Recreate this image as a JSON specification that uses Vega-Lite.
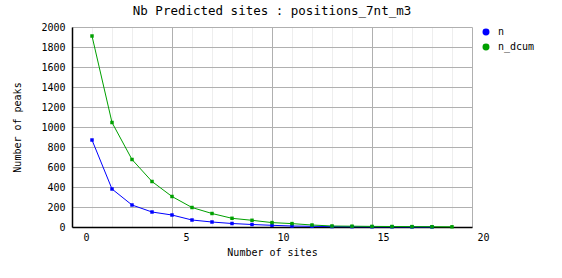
{
  "$schema": "https://vega.github.io/schema/vega-lite/v6.json",
  "width": 400,
  "height": 200,
  "autosize": {"type": "none"},
  "padding": {"left": 72, "top": 27, "right": 90, "bottom": 51},
  "background": "white",
  "title": {"text": "Nb Predicted sites : positions_7nt_m3", "font": "DejaVu Sans Mono", "fontSize": 12.5, "fontWeight": "normal", "color": "#000", "anchor": "middle", "offset": 5},
  "data": {"values": [
    {"x": 1, "v": 870, "s": "n"}, {"x": 2, "v": 380, "s": "n"}, {"x": 3, "v": 220, "s": "n"}, {"x": 4, "v": 150, "s": "n"},
    {"x": 5, "v": 120, "s": "n"}, {"x": 6, "v": 70, "s": "n"}, {"x": 7, "v": 50, "s": "n"}, {"x": 8, "v": 35, "s": "n"},
    {"x": 9, "v": 25, "s": "n"}, {"x": 10, "v": 17, "s": "n"}, {"x": 11, "v": 10, "s": "n"}, {"x": 12, "v": 7, "s": "n"},
    {"x": 13, "v": 4, "s": "n"}, {"x": 14, "v": 3, "s": "n"}, {"x": 15, "v": 2, "s": "n"}, {"x": 16, "v": 2, "s": "n"},
    {"x": 17, "v": 1, "s": "n"}, {"x": 18, "v": 1, "s": "n"},
    {"x": 1, "v": 1910, "s": "n_dcum"}, {"x": 2, "v": 1045, "s": "n_dcum"}, {"x": 3, "v": 675, "s": "n_dcum"}, {"x": 4, "v": 455, "s": "n_dcum"},
    {"x": 5, "v": 305, "s": "n_dcum"}, {"x": 6, "v": 195, "s": "n_dcum"}, {"x": 7, "v": 135, "s": "n_dcum"}, {"x": 8, "v": 87, "s": "n_dcum"},
    {"x": 9, "v": 67, "s": "n_dcum"}, {"x": 10, "v": 44, "s": "n_dcum"}, {"x": 11, "v": 34, "s": "n_dcum"}, {"x": 12, "v": 20, "s": "n_dcum"},
    {"x": 13, "v": 10, "s": "n_dcum"}, {"x": 14, "v": 8, "s": "n_dcum"}, {"x": 15, "v": 6, "s": "n_dcum"}, {"x": 16, "v": 5, "s": "n_dcum"},
    {"x": 17, "v": 4, "s": "n_dcum"}, {"x": 18, "v": 3, "s": "n_dcum"}, {"x": 19, "v": 2, "s": "n_dcum"}
  ]},
  "config": {
    "view": {"stroke": null},
    "axis": {"labelFont": "DejaVu Sans Mono", "titleFont": "DejaVu Sans Mono", "labelFontSize": 10, "titleFontSize": 10, "titleFontWeight": "normal", "labelColor": "#000", "titleColor": "#000", "ticks": false, "domainColor": "#000", "domainWidth": 1.5}
  },
  "mark": {"type": "line", "strokeWidth": 1, "point": {"shape": "square", "size": 12, "filled": true, "opacity": 1}},
  "encoding": {
    "x": {"field": "x", "type": "quantitative", "scale": {"domain": [0, 20], "nice": false, "zero": false},
      "axis": {"title": "Number of sites", "values": [0,1,2,3,4,5,6,7,8,9,10,11,12,13,14,15,16,17,18,19,20],
        "labelExpr": "datum.value % 5 === 0 ? datum.label : ''", "labelAlign": "right", "labelOffset": 17, "labelPadding": 5, "titlePadding": 5,
        "gridColor": {"condition": {"test": "datum.value % 5 === 0", "value": "#b0b0b0"}, "value": "#eeeeee"}, "gridWidth": 1, "labelFlush": false, "labelOverlap": false, "labelBound": false}},
    "y": {"field": "v", "type": "quantitative", "scale": {"domain": [0, 2000], "nice": false},
      "axis": {"title": "Number of peaks", "format": "d", "values": [0,200,400,600,800,1000,1200,1400,1600,1800,2000], "labelPadding": 7, "titlePadding": 18, "gridColor": "#b0b0b0", "labelFlush": false}},
    "color": {"field": "s", "type": "nominal", "scale": {"domain": ["n", "n_dcum"], "range": ["#0000ff", "#00a000"]},
      "legend": {"title": null, "orient": "right", "offset": 9, "padding": 0, "symbolType": "circle", "symbolSize": 30, "labelFont": "DejaVu Sans Mono", "labelFontSize": 10, "labelColor": "#000", "labelOffset": 7, "rowPadding": 3}}
  }
}
